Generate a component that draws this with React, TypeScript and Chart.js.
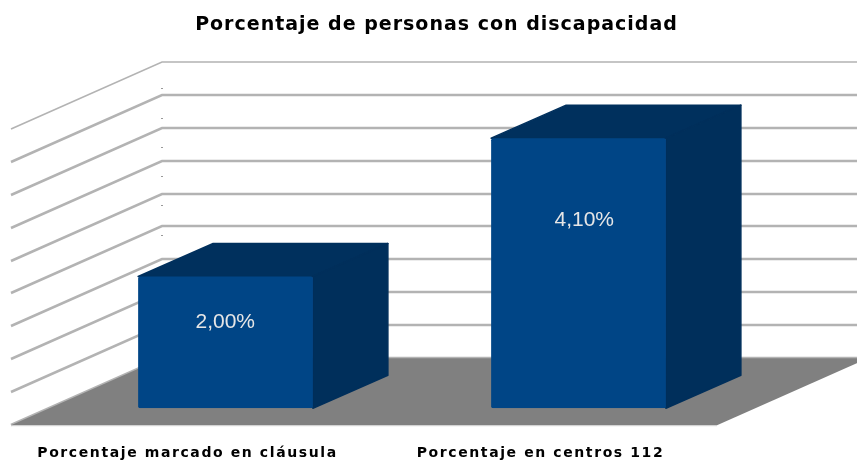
import React, { useEffect, useRef } from "react";
import { Chart, registerables } from "chart.js";

Chart.register(...registerables);

const categories = ["Porcentaje marcado en cláusula", "Porcentaje en centros 112"];
const seriesValues = [2.0, 4.1];
const seriesLabels = ["2,00%", "4,10%"];
const wallDotValues = [4.1, 3.65, 3.2, 2.76, 2.32, 1.87];
const titleText = "Porcentaje de personas con discapacidad";

const BLUE = "#004586";
const SIDE = "#002f5b";
const TOP = "#00305d";
const FLOOR = "#808080";
const GRID = "#b3b3b3";
const DEPTH_BACK = { x: 113, y: -50 };
const DEPTH_FRONT = { x: -38, y: 17 };
const BAR_DEPTH = { x: 75, y: -33 };
const TITLE_SHIFT = 34.5;

const scenePlugin = {
  id: "scene3d",
  afterLayout(chart: any) {
    const t = chart.titleBlock;
    if (t) {
      t.left += TITLE_SHIFT;
      t.right += TITLE_SHIFT;
    }
  },
  beforeDraw(chart: any) {
    chart.ctx.letterSpacing = "1px";
  },
  beforeDatasetsDraw(chart: any) {
    const { ctx, scales } = chart;
    const y = scales.y;
    const a = chart.chartArea;
    ctx.save();
    ctx.letterSpacing = "0px";
    const wallX = a.left + DEPTH_BACK.x;
    const frontX = a.left + DEPTH_FRONT.x;
    const wallDrop = DEPTH_FRONT.y - DEPTH_BACK.y;
    y.ticks.forEach((t: any, i: number) => {
      const py = Math.round(y.getPixelForValue(t.value)) + DEPTH_BACK.y;
      ctx.beginPath();
      ctx.moveTo(frontX, py + wallDrop);
      ctx.lineTo(wallX, py);
      ctx.lineTo(a.right + DEPTH_BACK.x, py);
      ctx.strokeStyle = GRID;
      ctx.lineWidth = i === y.ticks.length - 1 ? 1.6 : 2.5;
      ctx.stroke();
    });
    ctx.fillStyle = "#999999";
    wallDotValues.forEach((v) => {
      ctx.fillRect(wallX - 1, Math.round(y.getPixelForValue(v)) + DEPTH_BACK.y, 2, 1);
    });
    // floor
    const by = y.getPixelForValue(0);
    ctx.beginPath();
    ctx.moveTo(a.left + DEPTH_FRONT.x, by + DEPTH_FRONT.y);
    ctx.lineTo(a.left + DEPTH_BACK.x, by + DEPTH_BACK.y);
    ctx.lineTo(a.right + DEPTH_BACK.x, by + DEPTH_BACK.y);
    ctx.lineTo(a.right + DEPTH_FRONT.x, by + DEPTH_FRONT.y);
    ctx.closePath();
    ctx.fillStyle = FLOOR;
    ctx.fill();
    ctx.beginPath();
    ctx.moveTo(a.left + DEPTH_FRONT.x, by + DEPTH_FRONT.y + 0.5);
    ctx.lineTo(a.right + DEPTH_FRONT.x, by + DEPTH_FRONT.y + 0.5);
    ctx.strokeStyle = "#d0d0d0";
    ctx.lineWidth = 1;
    ctx.stroke();
    // 3D bar sides
    chart.getDatasetMeta(0).data.forEach((bar: any) => {
      const l = bar.x - bar.width / 2;
      const r = bar.x + bar.width / 2;
      ctx.lineJoin = "round";
      ctx.lineWidth = 1.5;
      ctx.beginPath();
      ctx.moveTo(l, bar.y);
      ctx.lineTo(l + BAR_DEPTH.x, bar.y + BAR_DEPTH.y);
      ctx.lineTo(r + BAR_DEPTH.x, bar.y + BAR_DEPTH.y);
      ctx.lineTo(r, bar.y);
      ctx.closePath();
      ctx.fillStyle = TOP;
      ctx.strokeStyle = TOP;
      ctx.fill();
      ctx.stroke();
      ctx.beginPath();
      ctx.moveTo(r, bar.y);
      ctx.lineTo(r + BAR_DEPTH.x, bar.y + BAR_DEPTH.y);
      ctx.lineTo(r + BAR_DEPTH.x, bar.base + BAR_DEPTH.y);
      ctx.lineTo(r, bar.base);
      ctx.closePath();
      ctx.fillStyle = SIDE;
      ctx.strokeStyle = SIDE;
      ctx.fill();
      ctx.stroke();
    });
    ctx.restore();
  },
  afterDatasetsDraw(chart: any) {
    const { ctx } = chart;
    ctx.save();
    ctx.letterSpacing = "0px";
    ctx.font = '21px "Liberation Sans"';
    ctx.fillStyle = "#e6e6e6";
    ctx.textAlign = "center";
    ctx.textBaseline = "middle";
    chart.getDatasetMeta(0).data.forEach((bar: any, i: number) => {
      const h = bar.base - bar.y;
      ctx.fillText(seriesLabels[i], bar.x - 6 + 0.0435 * h, bar.base + 11 - 0.738 * h);
    });
    ctx.restore();
    // spacing for the category labels, which are drawn after this hook
    ctx.letterSpacing = "1.6px";
  },
};

export default function App() {
  const ref = useRef<HTMLCanvasElement | null>(null);
  useEffect(() => {
    document.body.style.margin = "0";
    const chart = new Chart(ref.current as HTMLCanvasElement, {
      type: "bar",
      data: {
        labels: categories,
        datasets: [
          {
            data: seriesValues,
            backgroundColor: BLUE,
            barPercentage: 0.495,
            categoryPercentage: 1,
            borderRadius: 2,
            borderSkipped: false,
          },
        ],
      },
      options: {
        animation: false,
        responsive: false,
        layout: { padding: { left: 49, right: 118, top: 0, bottom: 0 } },
        plugins: {
          legend: { display: false },
          tooltip: { enabled: false },
          title: {
            display: true,
            text: titleText,
            color: "#000000",
            font: { family: '"DejaVu Sans"', size: 19, weight: "bold" },
            padding: { top: 14, bottom: 75 },
          },
        },
        scales: {
          x: {
            grid: { display: false, tickLength: 37 },
            border: { display: false },
            ticks: {
              color: "#000000",
              padding: 0,
              z: 1,
              labelOffset: DEPTH_FRONT.x,
              maxRotation: 0,
              font: { family: '"DejaVu Sans"', size: 14, weight: "bold" },
            },
          },
          y: {
            display: false,
            min: 0,
            max: 4.5,
            ticks: { stepSize: 0.5 },
          },
        },
      },
      plugins: [scenePlugin],
    } as any);
    return () => chart.destroy();
  }, []);
  return (
    <div style={{ width: 857, height: 462, overflow: "hidden", background: "#ffffff" }}>
      <canvas ref={ref} width={873} height={462} style={{ display: "block", filter: "blur(0.5px)" }} />
    </div>
  );
}
